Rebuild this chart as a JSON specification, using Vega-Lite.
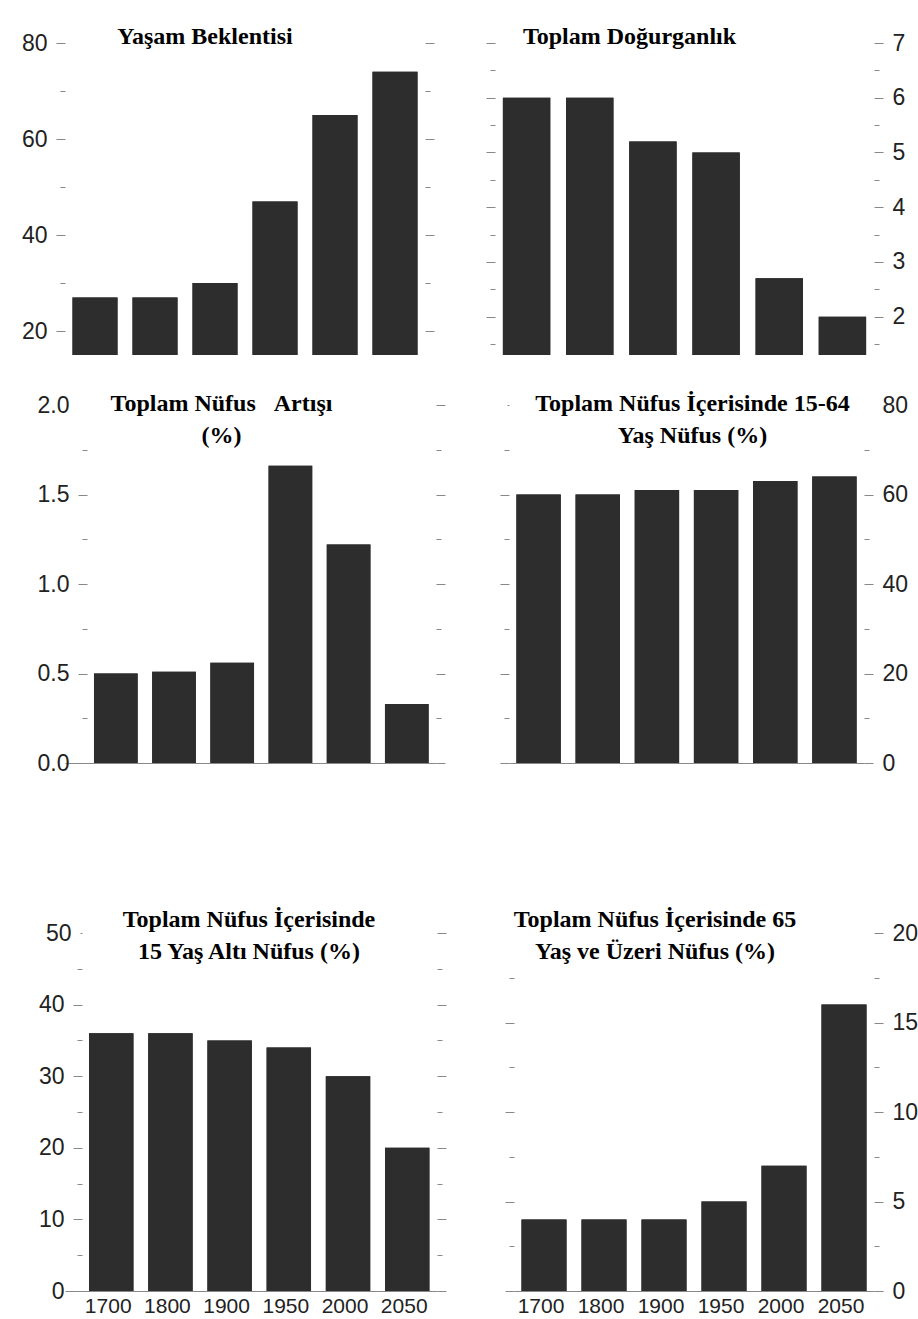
{
  "$schema": "https://vega.github.io/schema/vega-lite/v6.json",
  "background": "white",
  "padding": {"left": 0, "top": 25, "right": 0, "bottom": 0},
  "data": {"values": [
    {"year": "1700", "life": 27, "fert": 6.0, "growth": 0.50, "working": 60, "young": 36, "old": 4},
    {"year": "1800", "life": 27, "fert": 6.0, "growth": 0.51, "working": 60, "young": 36, "old": 4},
    {"year": "1900", "life": 30, "fert": 5.2, "growth": 0.56, "working": 61, "young": 35, "old": 4},
    {"year": "1950", "life": 47, "fert": 5.0, "growth": 1.66, "working": 61, "young": 34, "old": 5},
    {"year": "2000", "life": 65, "fert": 2.7, "growth": 1.22, "working": 63, "young": 30, "old": 7},
    {"year": "2050", "life": 74, "fert": 2.0, "growth": 0.33, "working": 64, "young": 20, "old": 16}
  ]},
  "config": {
    "view": {"stroke": null},
    "axis": {"domain": false, "grid": false, "labelFont": "Liberation Sans", "labelFontSize": 23, "labelColor": "#222", "tickColor": "#888", "tickWidth": 1, "labelPadding": 9, "title": null, "labelOverlap": false},
    "title": {"font": "Liberation Serif", "fontSize": 24, "fontWeight": "bold", "color": "#000", "lineHeight": 32, "frame": "group", "anchor": "middle", "baseline": "alphabetic"},
    "bar": {"color": "#2d2d2d"}
  },
  "spacing": 35,
  "vconcat": [
    {"spacing": 50, "hconcat": [
      {"width": 360, "height": 312,
       "title": {"text": "Yaşam Beklentisi", "dx": -40, "offset": -17},
       "encoding": {"x": {"field": "year", "type": "ordinal", "scale": {"paddingInner": 0.25, "paddingOuter": 0.125}, "axis": null}},
       "layer": [
         {"mark": {"type": "bar", "clip": true},
          "encoding": {"y": {"field": "life", "type": "quantitative", "scale": {"domain": [15, 80], "nice": false, "zero": false},
            "axis": {"orient": "left", "title": null, "values": [20, 30, 40, 50, 60, 70, 80], "labelExpr": "datum.value % 20 == 0 ? datum.label : ''",
              "tickSize": {"condition": {"test": "datum.value % 20 == 0", "value": 9}, "value": 5}, "minExtent": 65}}}},
         {"mark": {"type": "bar", "clip": true},
          "encoding": {"y": {"field": "life", "type": "quantitative",
            "axis": {"orient": "right", "title": null, "values": [20, 30, 40, 50, 60, 70, 80], "labels": false,
              "tickSize": {"condition": {"test": "datum.value % 20 == 0", "value": 9}, "value": 5}, "minExtent": 0}}}}
       ],
       "resolve": {"axis": {"y": "independent"}}
      },
      {"width": 379, "height": 312,
       "title": {"text": "Toplam Doğurganlık", "dx": -55, "offset": -17},
       "encoding": {"x": {"field": "year", "type": "ordinal", "scale": {"paddingInner": 0.25, "paddingOuter": 0.125}, "axis": null}},
       "layer": [
         {"mark": {"type": "bar", "clip": true},
          "encoding": {"y": {"field": "fert", "type": "quantitative", "scale": {"domain": [1.3, 7], "nice": false, "zero": false},
            "axis": {"orient": "right", "title": null, "values": [1.5, 2, 2.5, 3, 3.5, 4, 4.5, 5, 5.5, 6, 6.5, 7],
              "labelExpr": "round(datum.value) == datum.value ? format(datum.value, 'd') : ''",
              "tickSize": {"condition": {"test": "round(datum.value) == datum.value", "value": 9}, "value": 5}}}}},
         {"mark": {"type": "bar", "clip": true},
          "encoding": {"y": {"field": "fert", "type": "quantitative",
            "axis": {"orient": "left", "title": null, "values": [1.5, 2, 2.5, 3, 3.5, 4, 4.5, 5, 5.5, 6, 6.5, 7], "labels": false,
              "tickSize": {"condition": {"test": "round(datum.value) == datum.value", "value": 9}, "value": 5}, "minExtent": 9}}}}
       ],
       "resolve": {"axis": {"y": "independent"}}
      }
    ]},
    {"spacing": 53, "hconcat": [
      {"width": 371, "height": 358,
       "title": {"text": ["Toplam Nüfus\u00a0\u00a0\u00a0Artışı", "(%)"], "dx": -29, "offset": -54},
       "encoding": {"x": {"field": "year", "type": "ordinal", "scale": {"paddingInner": 0.25, "paddingOuter": 0.3125, "align": 0.797},
         "axis": {"labels": false, "ticks": false, "domain": true, "domainColor": "#888", "title": null, "minExtent": 110}}},
       "layer": [
         {"mark": {"type": "bar", "clip": true},
          "encoding": {"y": {"field": "growth", "type": "quantitative", "scale": {"domain": [0, 2], "nice": false},
            "axis": {"orient": "left", "title": null, "offset": -22, "values": [0, 0.25, 0.5, 0.75, 1, 1.25, 1.5, 1.75, 2], "format": ".1f", "labelExpr": "round(datum.value * 2) == datum.value * 2 ? datum.label : ''",
              "tickSize": {"condition": {"test": "round(datum.value * 2) == datum.value * 2", "value": 9}, "value": 5},
              "tickOpacity": {"condition": {"test": "datum.value == 2", "value": 0}, "value": 1}, "minExtent": 65}}}},
         {"mark": {"type": "bar", "clip": true},
          "encoding": {"y": {"field": "growth", "type": "quantitative",
            "axis": {"orient": "right", "title": null, "values": [0, 0.25, 0.5, 0.75, 1, 1.25, 1.5, 1.75, 2], "labels": false,
              "tickSize": {"condition": {"test": "round(datum.value * 2) == datum.value * 2", "value": 9}, "value": 5}, "minExtent": 0}}}}
       ],
       "resolve": {"axis": {"y": "independent"}}
      },
      {"width": 355, "height": 358,
       "title": {"text": ["Toplam Nüfus İçerisinde 15-64", "Yaş Nüfus (%)"], "dx": 6, "offset": -54},
       "encoding": {"x": {"field": "year", "type": "ordinal", "scale": {"paddingInner": 0.25, "paddingOuter": 0.125},
         "axis": {"labels": false, "ticks": false, "domain": true, "domainColor": "#888", "title": null, "minExtent": 110}}},
       "layer": [
         {"mark": {"type": "bar", "clip": true},
          "encoding": {"y": {"field": "working", "type": "quantitative", "scale": {"domain": [0, 80], "nice": false},
            "axis": {"orient": "left", "title": null, "values": [0, 10, 20, 30, 40, 50, 60, 70, 80], "labels": false,
              "tickSize": {"condition": [{"test": "datum.value == 80", "value": 2}, {"test": "datum.value % 20 == 0", "value": 9}], "value": 5}, "minExtent": 9}}}},
         {"mark": {"type": "bar", "clip": true},
          "encoding": {"y": {"field": "working", "type": "quantitative",
            "axis": {"orient": "right", "title": null, "values": [0, 10, 20, 30, 40, 50, 60, 70, 80], "labelExpr": "datum.value % 20 == 0 ? format(datum.value, 'd') : ''",
              "tickSize": {"condition": {"test": "datum.value % 20 == 0", "value": 9}, "value": 5},
              "tickOpacity": {"condition": {"test": "datum.value == 80", "value": 0}, "value": 1}}}}}
       ],
       "resolve": {"axis": {"y": "independent"}}
      }
    ]},
    {"spacing": 57, "hconcat": [
      {"width": 372, "height": 358,
       "title": {"text": ["Toplam Nüfus İçerisinde", "15 Yaş Altı Nüfus (%)"], "dx": -2, "offset": -42},
       "encoding": {"x": {"field": "year", "type": "ordinal", "scale": {"paddingInner": 0.25, "paddingOuter": 0.267, "align": 0.76},
         "axis": {"labels": true, "ticks": false, "domain": true, "domainColor": "#888", "title": null, "labelAngle": 0, "labelPadding": 4, "labelFontSize": 21, "labelOffset": -3}}},
       "layer": [
         {"mark": {"type": "bar", "clip": true},
          "encoding": {"y": {"field": "young", "type": "quantitative", "scale": {"domain": [0, 50], "nice": false},
            "axis": {"orient": "left", "title": null, "offset": -17, "values": [0, 5, 10, 15, 20, 25, 30, 35, 40, 45, 50], "labelExpr": "datum.value % 10 == 0 ? format(datum.value, 'd') : ''",
              "tickSize": {"condition": [{"test": "datum.value == 50", "value": 2}, {"test": "datum.value % 10 == 0", "value": 9}], "value": 5}, "minExtent": 65}}}},
         {"mark": {"type": "bar", "clip": true},
          "encoding": {"y": {"field": "young", "type": "quantitative",
            "axis": {"orient": "right", "title": null, "values": [0, 5, 10, 15, 20, 25, 30, 35, 40, 45, 50], "labels": false,
              "tickSize": {"condition": {"test": "datum.value % 10 == 0", "value": 9}, "value": 5}, "minExtent": 0}}}}
       ],
       "resolve": {"axis": {"y": "independent"}}
      },
      {"width": 360, "height": 358,
       "title": {"text": ["Toplam Nüfus İçerisinde 65", "Yaş ve Üzeri Nüfus (%)"], "dx": -39, "offset": -42},
       "encoding": {"x": {"field": "year", "type": "ordinal", "scale": {"paddingInner": 0.25, "paddingOuter": 0.125},
         "axis": {"labels": true, "ticks": false, "domain": true, "domainColor": "#888", "title": null, "labelAngle": 0, "labelPadding": 4, "labelFontSize": 21, "labelOffset": -3}}},
       "layer": [
         {"mark": {"type": "bar", "clip": true},
          "encoding": {"y": {"field": "old", "type": "quantitative", "scale": {"domain": [0, 20], "nice": false},
            "axis": {"orient": "left", "title": null, "values": [0, 2.5, 5, 7.5, 10, 12.5, 15, 17.5, 20], "labels": false,
              "tickSize": {"condition": {"test": "datum.value % 5 == 0", "value": 9}, "value": 5},
              "tickOpacity": {"condition": {"test": "datum.value == 20", "value": 0}, "value": 1}, "minExtent": 9}}}},
         {"mark": {"type": "bar", "clip": true},
          "encoding": {"y": {"field": "old", "type": "quantitative",
            "axis": {"orient": "right", "title": null, "values": [0, 2.5, 5, 7.5, 10, 12.5, 15, 17.5, 20], "labelExpr": "datum.value % 5 == 0 ? format(datum.value, 'd') : ''",
              "tickSize": {"condition": {"test": "datum.value % 5 == 0", "value": 9}, "value": 5}}}}}
       ],
       "resolve": {"axis": {"y": "independent"}}
      }
    ]}
  ]
}
